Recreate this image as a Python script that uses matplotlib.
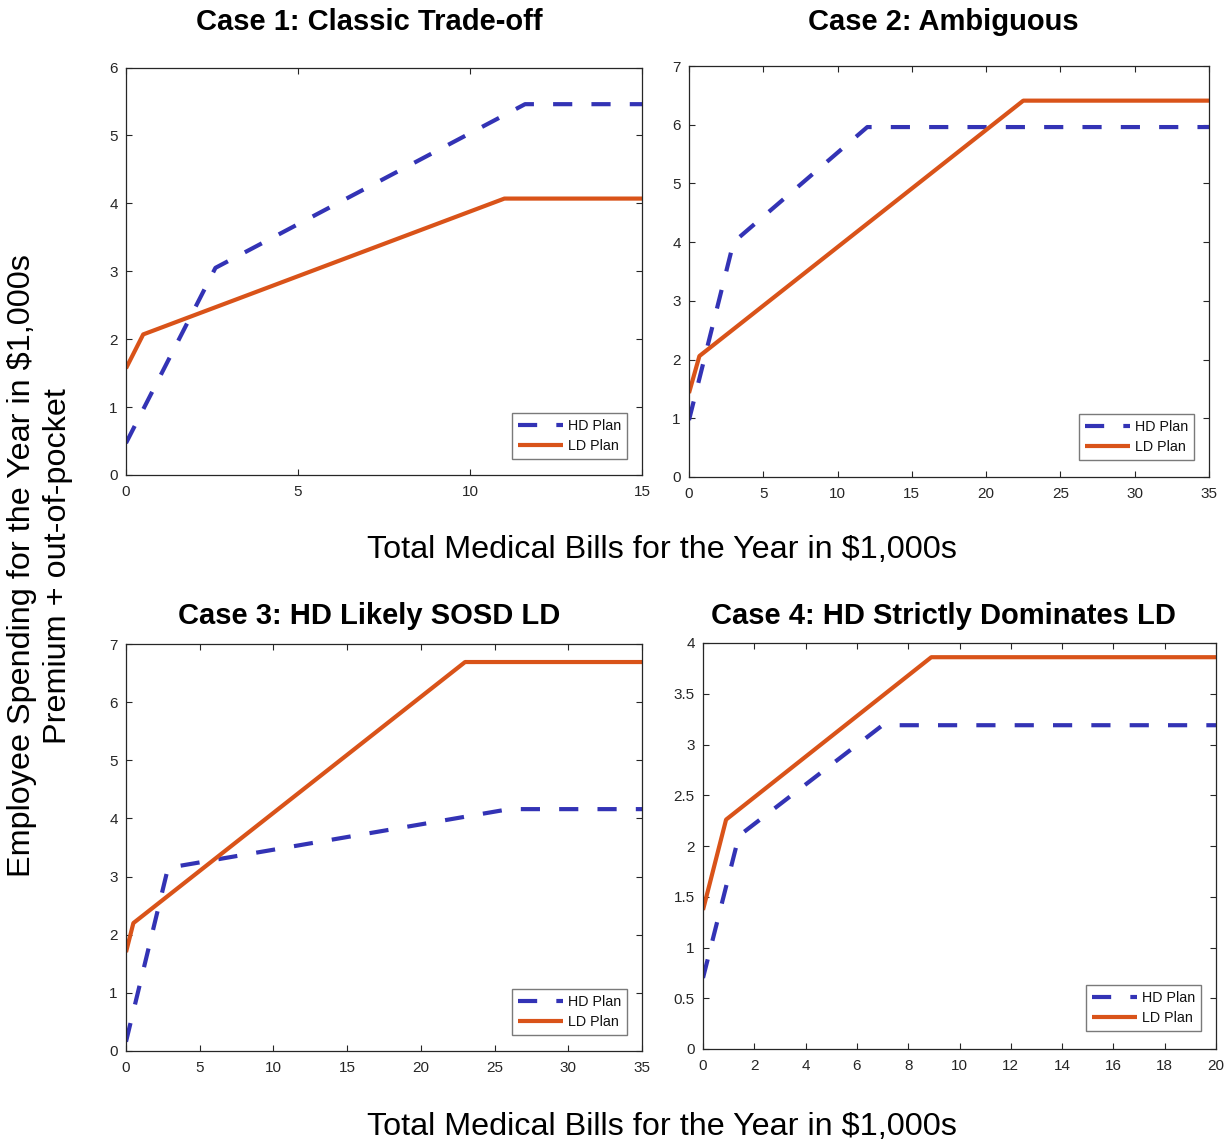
import matplotlib
matplotlib.use("Agg")
import matplotlib.pyplot as plt

plt.rcParams['font.family'] = ['Liberation Sans', 'DejaVu Sans']

# ---- data ----
case_titles = ["Case 1: Classic Trade-off", "Case 2: Ambiguous",
               "Case 3: HD Likely SOSD LD", "Case 4: HD Strictly Dominates LD"]

case1_hd_x = [0, 2.6, 11.6, 15]
case1_hd_y = [0.47, 3.05, 5.46, 5.46]
case1_ld_x = [0, 0.5, 11.0, 15]
case1_ld_y = [1.57, 2.07, 4.07, 4.07]

case2_hd_x = [0, 3.0, 12.0, 35]
case2_hd_y = [0.97, 4.0, 5.96, 5.96]
case2_ld_x = [0, 0.7, 22.5, 35]
case2_ld_y = [1.43, 2.06, 6.41, 6.41]

case3_hd_x = [0, 2.85, 26.0, 35]
case3_hd_y = [0.16, 3.15, 4.16, 4.16]
case3_ld_x = [0, 0.5, 23.0, 35]
case3_ld_y = [1.70, 2.20, 6.69, 6.69]

case4_hd_x = [0, 1.4, 7.0, 20]
case4_hd_y = [0.70, 2.10, 3.19, 3.19]
case4_ld_x = [0, 0.9, 8.9, 20]
case4_ld_y = [1.37, 2.26, 3.86, 3.86]

xlims = [(0, 15), (0, 35), (0, 35), (0, 20)]
ylims = [(0, 6), (0, 7), (0, 7), (0, 4)]
xticks = [[0, 5, 10, 15], [0, 5, 10, 15, 20, 25, 30, 35],
          [0, 5, 10, 15, 20, 25, 30, 35], [0, 2, 4, 6, 8, 10, 12, 14, 16, 18, 20]]
yticks = [[0, 1, 2, 3, 4, 5, 6], [0, 1, 2, 3, 4, 5, 6, 7],
          [0, 1, 2, 3, 4, 5, 6, 7], [0, 0.5, 1, 1.5, 2, 2.5, 3, 3.5, 4]]
ytick_labels = [None, None, None, ["0", "0.5", "1", "1.5", "2", "2.5", "3", "3.5", "4"]]

hd_label = "HD Plan"
ld_label = "LD Plan"
xlabel = "Total Medical Bills for the Year in $1,000s"
ylabel_line1 = "Employee Spending for the Year in $1,000s"
ylabel_line2 = "Premium + out-of-pocket"

hd_color = "#3333B5"
ld_color = "#D95319"
txt_color = "#262626"

W, H = 1231, 1141
fig = plt.figure(figsize=(W / 100, H / 100), dpi=100)

# pixel boxes: left, right, top, bottom
boxes = [(126, 642, 67.5, 475), (689, 1209, 66, 477),
         (126, 642, 644, 1051), (703, 1216, 643, 1049)]
leg_anchor = [(0.971, 0.039), (0.971, 0.041), (0.971, 0.039), (0.971, 0.045)]

data = [(case1_hd_x, case1_hd_y, case1_ld_x, case1_ld_y),
        (case2_hd_x, case2_hd_y, case2_ld_x, case2_ld_y),
        (case3_hd_x, case3_hd_y, case3_ld_x, case3_ld_y),
        (case4_hd_x, case4_hd_y, case4_ld_x, case4_ld_y)]

for i, (l, r, t, b) in enumerate(boxes):
    ax = fig.add_axes([l / W, (H - b) / H, (r - l) / W, (b - t) / H])
    hx, hy, lx, ly = data[i]
    ax.plot(hx, hy, color=hd_color, lw=3, linestyle=(0, (4.6, 4.6)),
            label=hd_label, solid_capstyle='butt', dash_capstyle='butt')
    ax.plot(lx, ly, color=ld_color, lw=3, label=ld_label, solid_capstyle='butt')
    ax.set_xlim(*xlims[i])
    ax.set_ylim(*ylims[i])
    ax.set_xticks(xticks[i])
    ax.set_yticks(yticks[i])
    if ytick_labels[i] is not None:
        ax.set_yticklabels(ytick_labels[i])
    ax.tick_params(direction='in', length=4, width=0.8, top=True, right=True,
                   labelsize=11, colors=txt_color)
    ax.tick_params(axis='x', pad=7)
    ax.tick_params(axis='y', pad=6)
    for sp in ax.spines.values():
        sp.set_linewidth(0.9)
        sp.set_color(txt_color)
    leg = ax.legend(loc='lower right', bbox_to_anchor=leg_anchor[i], borderaxespad=0,
                    fontsize=10.3, handlelength=3.15, handletextpad=0.35,
                    fancybox=False, framealpha=1, borderpad=0.4, labelspacing=0.45)
    leg.get_frame().set_edgecolor("#7a7a7a")
    leg.get_frame().set_linewidth(1.0)
    for tx in leg.get_texts():
        tx.set_color("#111111")

# titles
title_pos = [(369, 22), (943, 22), (369, 616), (943, 616)]
for (x, y), ttl in zip(title_pos, case_titles):
    fig.text(x / W, 1 - y / H, ttl, ha='center', va='center', fontsize=21,
             fontweight='bold', color='black')

# shared x labels
fig.text(662 / W, 1 - 550 / H, xlabel, ha='center', va='center', fontsize=23.3, color='black')
fig.text(662 / W, 1 - 1127 / H, xlabel, ha='center', va='center', fontsize=23.3, color='black')

# shared y label (two lines)
fig.text(22 / W, 1 - 566 / H, ylabel_line1, ha='center', va='center', fontsize=23.3,
         rotation=90, color='black')
fig.text(58 / W, 1 - 566 / H, ylabel_line2, ha='center', va='center', fontsize=23.3,
         rotation=90, color='black')

fig.savefig("out.png", dpi=100)
